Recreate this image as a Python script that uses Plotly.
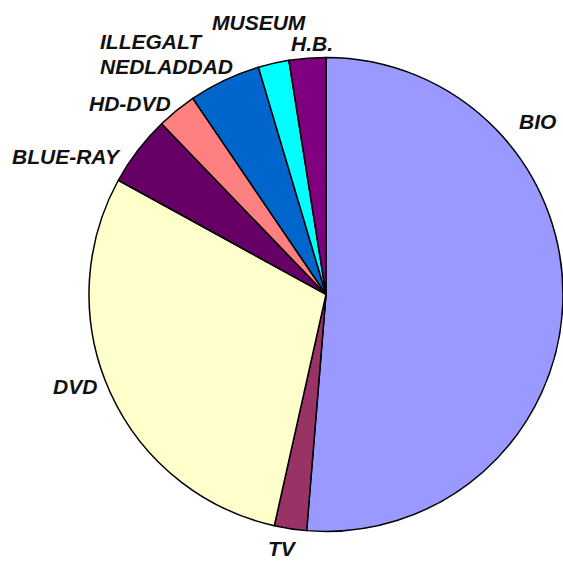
import plotly.graph_objects as go

labels = ["BIO", "TV", "DVD", "BLUE-RAY", "HD-DVD", "ILLEGALT NEDLADDAD", "MUSEUM", "H.B."]
values = [51.3, 2.2, 29.5, 4.8, 2.7, 4.9, 2.1, 2.5]
colors = ["#9999FF", "#993366", "#FFFFCC", "#660066", "#FF8080", "#0066CC", "#00FFFF", "#800080"]

W = H = 563

# label anchor positions in pixels (x, center y) and alignment
label_pos = {
    "BIO": [(537, 121, "center")],
    "TV": [(282, 548, "center")],
    "DVD": [(75, 386, "center")],
    "BLUE-RAY": [(66, 156, "center")],
    "HD-DVD": [(130, 103, "center")],
    "ILLEGALT NEDLADDAD": [(98, 42, "left"), (98, 66, "left")],
    "MUSEUM": [(259, 23, "center")],
    "H.B.": [(312, 44, "center")],
}

fig = go.Figure(go.Pie(
    labels=labels,
    values=values,
    sort=False,
    direction="clockwise",
    rotation=0,
    marker=dict(colors=colors, line=dict(color="black", width=1.5)),
    textinfo="none",
    hoverinfo="skip",
    showlegend=False,
    domain=dict(x=[89 / W, 1.0], y=[0.0561, 0.8980]),
))

font = dict(family="Liberation Sans, Arial, sans-serif", size=21, color="#111111",
            weight="bold", style="italic")
annotations = []
for lab in labels:
    parts = lab.split(" ") if lab == "ILLEGALT NEDLADDAD" else [lab]
    for part, (px, py, al) in zip(parts, label_pos[lab]):
        annotations.append(dict(
            text=part, x=px / W, y=1 - py / H, xref="paper", yref="paper",
            xanchor=al, yanchor="middle", showarrow=False, font=font,
        ))

fig.update_layout(
    width=W, height=H,
    margin=dict(l=0, r=0, t=0, b=0),
    paper_bgcolor="white", plot_bgcolor="white",
    annotations=annotations,
)

# remove the default 8px page margin so the figure fills the window exactly
fig.write_html(
    "out.html",
    config={"displayModeBar": False},
    post_script="document.body.style.margin='0';document.body.style.overflow='hidden';",
)
